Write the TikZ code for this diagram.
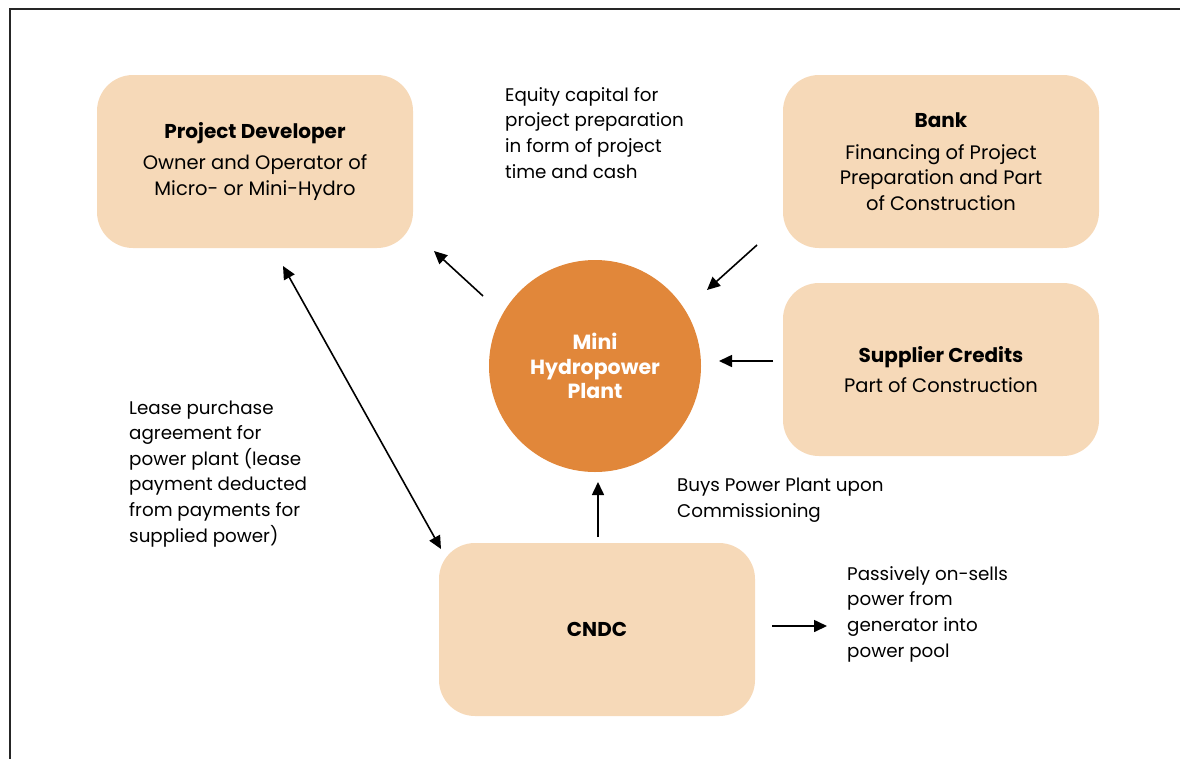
\documentclass[tikz,border=0pt]{standalone}
\usepackage{fontspec}
\setmainfont{Poppins}
\usetikzlibrary{arrows.meta,positioning}
\definecolor{boxfill}{HTML}{F6D9B8}
\definecolor{plantfill}{HTML}{E1873A}

\begin{document}
\begin{tikzpicture}[x=1pt,y=-1pt,
       party/.style={fill=boxfill,rounded corners=36pt,minimum width=316pt,
         minimum height=173pt,align=center,font=\fontsize{19.5}{25.5}\selectfont},
       title/.style={font=\fontsize{20}{25.5}\selectfont\bfseries},
       plant/.style={circle,fill=plantfill,minimum size=212pt,text=white,
         align=center,font=\fontsize{20.5}{24.5}\selectfont\bfseries},
       note/.style={align=left,inner sep=0pt,anchor=base west,
         font=\fontsize{18.3}{25.6}\selectfont},
       flow/.style={line width=1.6pt,-{Triangle[length=13pt,width=12pt]}},
       both/.style={line width=1.6pt,{Triangle[length=13pt,width=12pt]}-{Triangle[length=13pt,width=12pt]}}]

       \clip (0,0) rectangle (1180,758);
       \draw[line width=1.6pt,black!85] (10,9) rectangle (1200,790);

       
       \node[party] (PD) at (255,161.5)
       {{\bfseries\fontsize{20}{25.5}\selectfont Project Developer}\\[6pt]
         Owner and Operator of\\ Micro- or Mini-Hydro};
       \node[party] (BK) at (941,161.5)
       {{\bfseries\fontsize{20}{25.5}\selectfont Bank}\\[6pt]
         Financing of Project\\ Preparation and Part\\ of Construction};
       \node[party] (SC) at (941,369.5)
       {{\bfseries\fontsize{20}{25.5}\selectfont Supplier Credits}\\[4pt]
         Part of Construction};
       \node[party,title] (CN) at (597,629.5) {CNDC};
       \node[plant] (MH) at (595,366) {Mini\\ Hydropower\\ Plant};

       
       \coordinate (PDA) at (483,296);
       \coordinate (PDB) at (434,251);
       \draw[flow] (PDA) -- (PDB);

       \coordinate (BKA) at (757,245);
       \coordinate (BKB) at (707,290);
       \draw[flow] (BKA) -- (BKB);

       \coordinate (SCA) at (773,361);
       \coordinate (SCB) at (719,361);
       \draw[flow] (SCA) -- (SCB);

       \coordinate (CNA) at (598,537);
       \coordinate (CNB) at (598,482);
       \draw[flow] (CNA) -- (CNB);

       \coordinate (LPA) at (283,266);
       \coordinate (LPB) at (441,549);
       \draw[both] (LPA) -- (LPB);

       \coordinate (PPA) at (772,626);
       \coordinate (PPB) at (827,626);
       \draw[flow] (PPA) -- (PPB);

       
       \node[note] (EQ) at (505,178)
       {Equity capital for\\ project preparation\\ in form of project\\ time and cash};
       \node[note] (LP) at (129,542)
       {Lease purchase\\ agreement for\\ power plant (lease\\ payment deducted\\ from payments for\\ supplied power)};
       \node[note] (BY) at (677,517) {Buys Power Plant upon\\ Commissioning};
       \node[note] (PP) at (847,657)
       {Passively on-sells\\ power from\\ generator into\\ power pool};
\end{tikzpicture}
\end{document}
